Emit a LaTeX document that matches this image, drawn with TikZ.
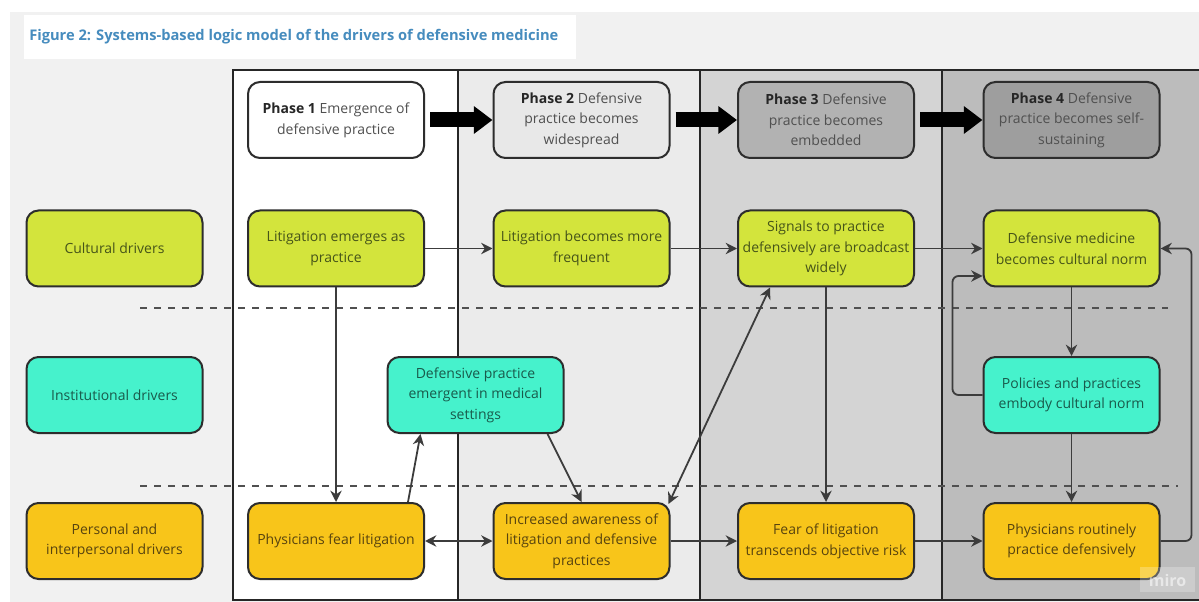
\documentclass[tikz,border=0pt]{standalone}
\usepackage{fontspec}
\setmainfont{Open Sans}
\usetikzlibrary{arrows.meta,calc}
\definecolor{bgc}{RGB}{241,241,241}
\definecolor{titleblue}{RGB}{70,140,190}
\definecolor{colA}{RGB}{255,255,255}
\definecolor{colB}{RGB}{235,235,235}
\definecolor{colC}{RGB}{212,212,212}
\definecolor{colD}{RGB}{188,188,188}
\definecolor{phA}{RGB}{255,255,255}
\definecolor{phB}{RGB}{232,232,232}
\definecolor{phC}{RGB}{178,178,178}
\definecolor{phD}{RGB}{158,158,158}
\definecolor{cult}{RGB}{211,228,60}
\definecolor{inst}{RGB}{70,242,204}
\definecolor{pers}{RGB}{248,197,26}
\definecolor{cultT}{RGB}{70,84,25}
\definecolor{instT}{RGB}{25,90,75}
\definecolor{persT}{RGB}{88,68,15}
\definecolor{phT}{RGB}{80,80,80}
\definecolor{conn}{RGB}{60,60,60}
\definecolor{bordr}{RGB}{45,45,45}
\begin{document}
\begin{tikzpicture}[x=0.75pt,y=-0.75pt,
  box/.style={draw=bordr, line width=1.5pt, rounded corners=9pt,
    minimum width=132pt, minimum height=57pt, inner sep=2pt, align=center,
    font=\fontsize{10.5}{15.5}\selectfont},
  cultbox/.style={box, fill=cult, text=cultT},
  instbox/.style={box, fill=inst, text=instT},
  persbox/.style={box, fill=pers, text=persT},
  phbox/.style={box, text=phT},
  link/.style={draw=conn, line width=1.35pt, -{Stealth[length=8.5pt,width=8.5pt]}},
  dlink/.style={link, {Stealth[length=8.5pt,width=8.5pt]}-{Stealth[length=8.5pt,width=8.5pt]}},
  bigarrow/.style={draw=black, line width=11.25pt, -{Triangle[length=14pt,width=20pt]}, shorten <=3.75pt},
  sep/.style={draw=conn!90, line width=1.4pt, dash pattern=on 5.25pt off 5.25pt},
  colline/.style={draw=black!85, line width=1.8pt}
]
\useasboundingbox (0,0) rectangle (1199,602);
\fill[white] (0,0) rectangle (1199,602);
\fill[bgc] (10,12) rectangle (1199,602);
\fill[white] (24,15) rectangle (576,59);
\node[anchor=west, text=titleblue, inner sep=0pt, font=\bfseries\fontsize{11}{13}\selectfont] (title) at (29,37) {Figure 2: Systems-based logic model of the drivers of defensive medicine};

% columns
\fill[colA] (233,70) rectangle (458,600);
\fill[colB] (458,70) rectangle (700,600);
\fill[colC] (700,70) rectangle (942,600);
\fill[colD] (942,70) rectangle (1199,600);
\draw[colline] (1199,70) -- (233,70) -- (233,600) -- (1199,600);
\draw[colline] (458,70) -- (458,600);
\draw[colline] (700,70) -- (700,600);
\draw[colline] (942,70) -- (942,600);

% dashed separators
\draw[sep] (140,308) -- (1168,308);
\draw[sep] (140,486) -- (1178,486);

% phase boxes
\node[phbox, fill=phA] (p1) at (336,120) {\textbf{\color{black!85}Phase 1} Emergence of\\defensive practice};
\node[phbox, fill=phB] (p2) at (581.5,120) {\textbf{\color{black!85}Phase 2} Defensive\\practice becomes\\widespread};
\node[phbox, fill=phC] (p3) at (826,120) {\textbf{\color{black!85}Phase 3} Defensive\\practice becomes\\embedded};
\node[phbox, fill=phD] (p4) at (1071.5,120) {\textbf{\color{black!85}Phase 4} Defensive\\practice becomes self-\\sustaining};

\draw[bigarrow] (p1.east) -- (p2.west);
\draw[bigarrow] (p2.east) -- (p3.west);
\draw[bigarrow] (p3.east) -- (p4.west);

% row labels
\node[cultbox] (lc) at (114.5,248.5) {Cultural drivers};
\node[instbox] (li) at (114.5,395) {Institutional drivers};
\node[persbox] (lp) at (114.5,541) {Personal and\\interpersonal drivers};

% cultural row
\node[cultbox] (le) at (336,248.5) {Litigation emerges as\\practice};
\node[cultbox] (lf) at (581.5,248.5) {Litigation becomes more\\frequent};
\node[cultbox] (sig) at (826,248.5) {Signals to practice\\defensively are broadcast\\widely};
\node[cultbox] (dm) at (1071.5,248.5) {Defensive medicine\\becomes cultural norm};

% institutional row
\node[instbox] (dp) at (475.5,395) {Defensive practice\\emergent in medical\\settings};
\node[instbox] (pol) at (1071.5,395) {Policies and practices\\embody cultural norm};

% personal row
\node[persbox] (pf) at (336,541) {Physicians fear litigation};
\node[persbox] (aw) at (581.5,541) {Increased awareness of\\litigation and defensive\\practices};
\node[persbox] (fo) at (826,541) {Fear of litigation\\transcends objective risk};
\node[persbox] (pr) at (1071.5,541) {Physicians routinely\\practice defensively};

% connectors
\draw[link] (le) -- (lf);
\draw[link] (lf) -- (sig);
\draw[link] (sig) -- (dm);
\draw[link] (le) -- (pf);
\draw[link] ($(pf.north)+(72,0)$) -- ($(dp.south)+(-55,0)$);
\draw[link] ($(dp.south)+(72,0)$) -- (aw.north);
\draw[dlink] (pf) -- (aw);
\draw[dlink] ($(aw.north east)+(-2,2)$) -- ($(sig.south)+(-56,0)$);
\draw[link] (sig) -- (fo);
\draw[link] (aw) -- (fo);
\draw[link] (fo) -- (pr);
\draw[link] (dm) -- (pol);
\draw[link] (pol) -- (pr);
\draw[link, rounded corners=4.5pt] (pol.west) -- ++(-30,0) |- ($(dm.west)+(0,27.5)$);
\draw[link, rounded corners=4.5pt] (pr.east) -- ++(31,0) |- (dm.east);

% watermark
\fill[white, opacity=0.25] (1140,567) rectangle (1195,592);
\node[text=white, opacity=0.55, font=\bfseries\fontsize{12}{12}\selectfont] (miro) at (1167.5,580) {miro};
\end{tikzpicture}
\end{document}
